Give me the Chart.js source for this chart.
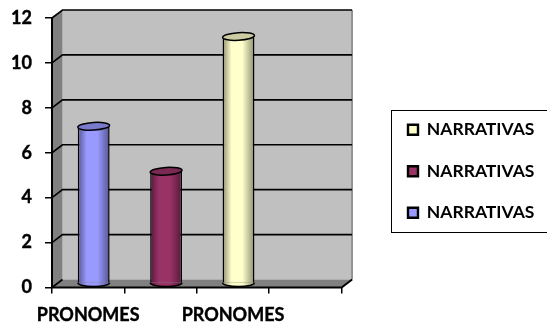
<!DOCTYPE html>
<html>
<head>
<meta charset="utf-8">
<style>
html,body{margin:0;padding:0;background:#fff;overflow:hidden}
#wrap{width:547px;height:327px;position:relative}
canvas{display:block}
</style>
<script src="https://cdn.jsdelivr.net/npm/chart.js@4"></script>
</head>
<body>
<div id="wrap"><canvas id="c" width="547" height="327"></canvas></div>
<script>
const categories = ['PRONOMES', '', 'PRONOMES', ''];
const seriesNames = ['NARRATIVAS', 'NARRATIVAS', 'NARRATIVAS'];
const seriesA = [7, null, null, null];
const seriesB = [null, 5, null, null];
const seriesC = [null, null, 11, null];
const yTicks = [0, 2, 4, 6, 8, 10, 12];
const bodyColors = ['#9999FF', '#993366', '#FFFFCC'];
const edgeColors = ['#55558F', '#55193A', '#8F8F70'];
const capColors = ['#7A7ACC', '#7A2952', '#CCCCA3'];

const FONT = {family: 'Lato, Carlito, sans-serif', weight: 'bold', size: 18};
const LEGEND_FONT = {family: 'Lato, Carlito, sans-serif', weight: 'bold', size: 17.5};
const DEPTH_X = 10.5, DEPTH_Y = 8;   // oblique offset from front plane to back wall
const BAR_DX = 5.5, BAR_DY = 4;      // cylinders stand halfway into the depth
const CAP_RY = 3.8;

function bodyGradient(ctx, cx, half, i) {
  const g = ctx.createLinearGradient(cx - half, 0, cx + half, 0);
  g.addColorStop(0, edgeColors[i]);
  g.addColorStop(0.28, bodyColors[i]);
  g.addColorStop(0.62, bodyColors[i]);
  g.addColorStop(1, edgeColors[i]);
  return g;
}

const scene = {
  id: 'scene',
  afterLayout(chart) {
    // the legend sits inside its own framed panel, clear of the plot
    const lg = chart.legend;
    lg.left = 384;
    lg.right = lg.left + lg.width + 20;
    lg.top = 97;
    lg.bottom = lg.top + lg.height;
  },
  beforeDraw(chart) {
    const {ctx} = chart;
    ctx.save();
    ctx.strokeStyle = '#000';
    ctx.lineWidth = 1;
    ctx.strokeRect(391.5, 110.5, 170, 122);
    ctx.restore();
  },
  beforeDatasetsDraw(chart) {
    const {ctx, scales: {x, y}, chartArea: a} = chart;
    const dx = DEPTH_X, dy = DEPTH_Y;
    const L = a.left, R = a.right, B = a.bottom, T = a.top;
    ctx.save();
    // back wall
    ctx.fillStyle = '#C0C0C0';
    ctx.fillRect(L + dx, T - dy, R - L, B - T);
    // left wall
    ctx.fillStyle = '#808080';
    ctx.beginPath();
    ctx.moveTo(L, T); ctx.lineTo(L + dx, T - dy); ctx.lineTo(L + dx, B - dy); ctx.lineTo(L, B);
    ctx.closePath(); ctx.fill();
    // floor
    ctx.beginPath();
    ctx.moveTo(L, B); ctx.lineTo(L + dx, B - dy); ctx.lineTo(R + dx, B - dy); ctx.lineTo(R, B);
    ctx.closePath(); ctx.fill();
    // right edge of the back wall
    ctx.strokeStyle = '#808080';
    ctx.lineWidth = 1.5;
    ctx.beginPath();
    ctx.moveTo(R + dx, T - dy); ctx.lineTo(R + dx, B - dy);
    ctx.stroke();
    // gridlines: along the back wall, then down the left wall to the axis
    ctx.strokeStyle = '#000';
    ctx.lineWidth = 1.6;
    yTicks.forEach(v => {
      const py = y.getPixelForValue(v);
      ctx.beginPath();
      ctx.moveTo(L, py); ctx.lineTo(L + dx, py - dy);
      if (v !== 0) ctx.lineTo(R + dx, py - dy);
      ctx.stroke();
    });
    // front axes
    ctx.lineWidth = 2;
    ctx.beginPath();
    ctx.moveTo(L, T); ctx.lineTo(L, B); ctx.lineTo(R, B); ctx.lineTo(R + dx, B - dy);
    ctx.stroke();
    ctx.restore();
    ctx.save();
    ctx.translate(BAR_DX, -BAR_DY);
  },
  afterDatasetsDraw(chart) {
    const {ctx} = chart;
    chart.data.datasets.forEach((ds, i) => {
      chart.getDatasetMeta(i).data.forEach((bar, j) => {
        if (ds.data[j] === null) return;
        const half = bar.width / 2;
        // rounded foot
        ctx.beginPath();
        ctx.ellipse(bar.x, bar.base, half, CAP_RY, 0, 0, Math.PI);
        ctx.fillStyle = bodyGradient(ctx, bar.x, half, i);
        ctx.fill();
        ctx.strokeStyle = '#000';
        ctx.lineWidth = 1.5;
        ctx.stroke();
        // top cap
        ctx.beginPath();
        ctx.ellipse(bar.x, bar.y, half, CAP_RY, -0.06, 0, Math.PI * 2);
        ctx.fillStyle = capColors[i];
        ctx.fill();
        ctx.stroke();
      });
    });
    ctx.restore();
  }
};

new Chart(document.getElementById('c'), {
  type: 'bar',
  data: {
    labels: categories,
    datasets: [seriesA, seriesB, seriesC].map((d, i) => ({
      label: seriesNames[i],
      data: d,
      backgroundColor: c => {
        const x = c.chart.scales.x;
        const half = x.width / categories.length * 0.44 / 2;
        return bodyGradient(c.chart.ctx, x.getPixelForValue(c.dataIndex), half, i);
      },
      borderColor: '#000',
      borderWidth: 1.5,
      borderSkipped: 'bottom',
      barPercentage: 0.44,
      categoryPercentage: 1
    }))
  },
  options: {
    responsive: false,
    animation: false,
    devicePixelRatio: 1,
    layout: {padding: {left: 0, top: 18, right: 45, bottom: 0}},
    scales: {
      x: {
        stacked: true,
        afterFit: s => { s.height = 39.5; s.paddingLeft = 0; s.paddingRight = 0; },
        grid: {display: true, drawOnChartArea: false, drawTicks: true, tickLength: 6, color: '#000', lineWidth: 1.5},
        border: {display: false},
        ticks: {font: FONT, color: '#000', autoSkip: false, maxRotation: 0, padding: 11, textStrokeColor: '#000', textStrokeWidth: 0.4}
      },
      y: {
        stacked: true,
        min: yTicks[0],
        max: yTicks[yTicks.length - 1],
        afterFit: s => { s.width = 52; s.paddingTop = 0; s.paddingBottom = 0; },
        grid: {display: true, drawOnChartArea: false, drawTicks: true, tickLength: 7, color: '#000', lineWidth: 1.5},
        border: {display: false},
        afterBuildTicks: s => { s.ticks = yTicks.map(v => ({value: v})); },
        ticks: {font: FONT, color: '#000', padding: 13, textStrokeColor: '#000', textStrokeWidth: 0.4}
      }
    },
    plugins: {
      tooltip: {enabled: false},
      legend: {
        position: 'right',
        align: 'start',
        reverse: true,
        maxWidth: 180,
        labels: {
          font: LEGEND_FONT,
          color: '#000',
          boxWidth: 10,
          boxHeight: 10,
          padding: 24,
          generateLabels: chart => chart.data.datasets.map((ds, i) => ({
            text: ds.label,
            fillStyle: bodyColors[i],
            strokeStyle: '#000',
            lineWidth: 2.4,
            fontColor: '#000',
            datasetIndex: i
          }))
        }
      }
    }
  },
  plugins: [scene]
});
</script>
</body>
</html>
